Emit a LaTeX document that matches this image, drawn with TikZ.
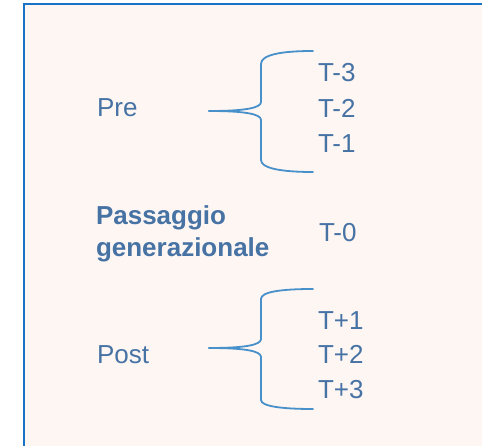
\documentclass[tikz,border=0pt]{standalone}
\usepackage{fontspec}
\setmainfont{Liberation Sans}
\usepackage{tikz}
\usetikzlibrary{positioning}
\definecolor{txtblue}{RGB}{70,114,164}
\definecolor{braceblue}{RGB}{72,144,202}
\definecolor{frameblue}{RGB}{24,114,198}
\definecolor{paper}{RGB}{253,246,243}

\begin{document}
\begin{tikzpicture}[x=1pt,y=-1pt]
\tikzstyle{every node} = [inner sep=0pt,outer sep=0pt,text=txtblue,font=\fontsize{26}{31}\selectfont]
\tikzstyle{lbl} = [anchor=base west]
\tikzstyle{brace} = [draw=braceblue,line width=1.8pt,line cap=round]

\useasboundingbox (0,0) rectangle (482,446);
\clip (0,0) rectangle (482,446);
\draw[frameblue,line width=2pt,fill=paper] (24,4) rectangle (500,470);

% before
\node[lbl] (pre) at (97,117) {Pre};
\node[lbl] (tm3) at (318,82) {T-3};
\node[lbl] (tm2) at (318,118) {T-2};
\node[lbl] (tm1) at (318,153) {T-1};

\draw[brace] (209,111) .. controls (245,111) and (261,108) .. (261,102) -- (261,64) .. controls (261,55) and (280,51) .. (313,51);
\draw[brace] (209,111) .. controls (245,111) and (261,114) .. (261,120) -- (261,160) .. controls (261,168) and (280,172) .. (313,172);

% T-0
\node[lbl,align=left,font=\fontsize{26}{32}\selectfont\bfseries] (pg) at (96,257) {Passaggio\\generazionale};
\node[lbl] (t0) at (319,242) {T-0};

% after
\node[lbl] (post) at (97,363) {Post};
\node[lbl] (tp1) at (318,330) {T+1};
\node[lbl] (tp2) at (318,363) {T+2};
\node[lbl] (tp3) at (318,398) {T+3};

\draw[brace] (209,348) .. controls (245,348) and (261,345) .. (261,339) -- (261,299) .. controls (261,292) and (280,289) .. (313,289);
\draw[brace] (209,348) .. controls (245,348) and (261,351) .. (261,357) -- (261,400) .. controls (261,406) and (280,409) .. (313,409);

\end{tikzpicture}
\end{document}
